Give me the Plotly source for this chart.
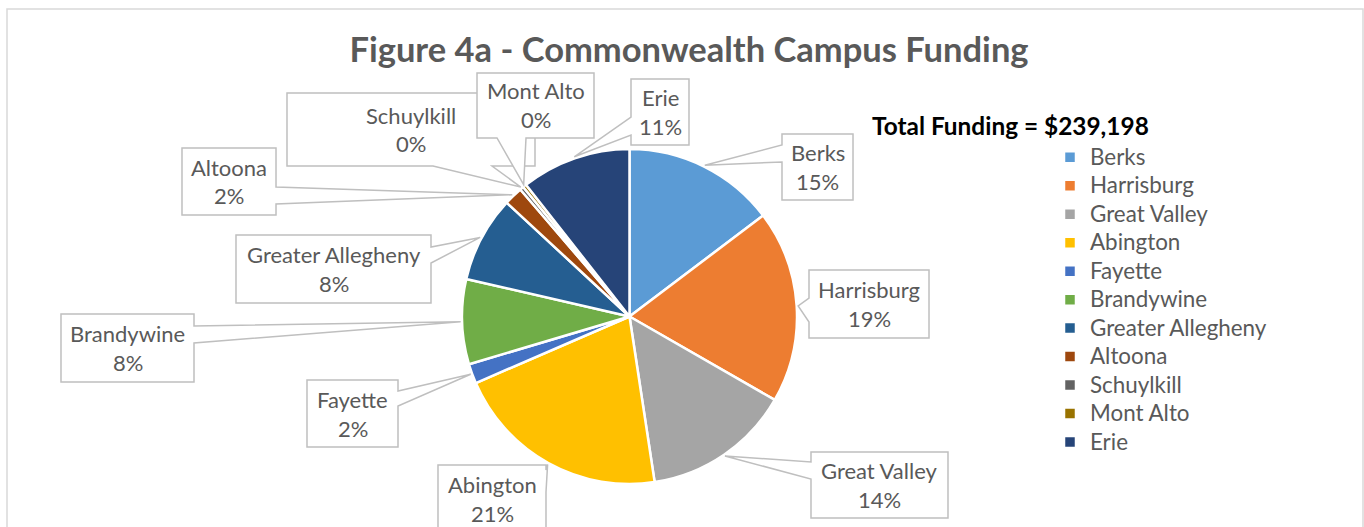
import math
import plotly.graph_objects as go

# ---------------- data ----------------
campuses = ["Berks", "Harrisburg", "Great Valley", "Abington", "Fayette", "Brandywine",
            "Greater Allegheny", "Altoona", "Schuylkill", "Mont Alto", "Erie"]
funding = [35162, 44491, 34205, 49992, 4545, 19614, 19853, 4306, 862, 812, 25356]
colors = ["#5B9BD5", "#ED7D31", "#A5A5A5", "#FFC000", "#4472C4", "#70AD47",
          "#255E91", "#9E480E", "#636363", "#997300", "#264478"]
title_text = "Figure 4a - Commonwealth Campus Funding"

# ---------------- layout constants (pixels) ----------------
W, H = 1364, 527
CX, CY, R = 629.5, 316.5, 167.5          # pie centre / radius in pixels
FONT = "Lato"
GRAY = "#595959"
LABEL_SIZE = 22
LEGEND_SIZE = 22.4

# callout boxes: (x0, y0, x1, y1), side of pointer, pointer base (a, b)
callouts = {
    "Berks":             ((782, 134, 853, 200), "left",   (145, 162)),
    "Harrisburg":        ((809, 270, 929, 338), "left",   (298, 322)),
    "Great Valley":      ((811, 452, 948, 518), "left",   (462, 479)),
    "Abington":          ((438, 465, 546, 540), "right",  (470, 492)),
    "Fayette":           ((307, 380, 398, 447), "right",  (391, 406)),
    "Brandywine":        ((61, 314, 194, 382),  "right",  (326, 343)),
    "Greater Allegheny": ((236, 235, 431, 303), "right",  (247, 263)),
    "Altoona":           ((182, 148, 276, 215), "right",  (187, 204)),
    "Schuylkill":        ((287, 93, 535, 166),  "bottom", (433, 492)),
    "Mont Alto":         ((477, 73, 594, 138),  "bottom", (497, 526)),
    "Erie":              ((631, 79, 689, 145),  "left",   (117, 135)),
}


def px(x):
    return x / W


def py(y):
    return 1 - y / H


def P(x, y):
    return f"{px(x):.5f},{py(y):.5f}"


total = sum(funding)
pcts = [v / total for v in funding]

legend_names = [f'<span style="font-size:{LEGEND_SIZE}px">{c}</span>' for c in campuses]

fig = go.Figure()
fig.add_trace(go.Pie(
    labels=legend_names, values=funding, sort=False, direction="clockwise", rotation=0,
    marker=dict(colors=colors, line=dict(color="white", width=2.5)),
    textinfo="none", hoverinfo="label+value+percent",
    domain=dict(x=[px(CX - R), px(CX + R)], y=[py(CY + R), py(CY - R)]),
    showlegend=True,
))

shapes = []
annotations = []

# chart area border
shapes.append(dict(type="rect", xref="paper", yref="paper",
                   x0=px(7), x1=px(1363), y0=py(545), y1=py(9),
                   line=dict(color="#D9D9D9", width=1.5), fillcolor="rgba(0,0,0,0)",
                   layer="below"))

cum = 0.0
for name, p in zip(campuses, pcts):
    mid = (cum + p / 2) * 2 * math.pi
    cum += p
    tx = CX + (R + 1.5) * math.sin(mid)
    ty = CY - (R + 1.5) * math.cos(mid)
    (x0, y0, x1, y1), side, (a, b) = callouts[name]
    if side == "left":
        pts = [(x0, y0), (x1, y0), (x1, y1), (x0, y1), (x0, b), (tx, ty), (x0, a)]
    elif side == "right":
        pts = [(x0, y0), (x1, y0), (x1, a), (tx, ty), (x1, b), (x1, y1), (x0, y1)]
    elif side == "bottom":
        pts = [(x0, y0), (x1, y0), (x1, y1), (b, y1), (tx, ty), (a, y1), (x0, y1)]
    else:
        pts = [(x0, y0), (a, y0), (tx, ty), (b, y0), (x1, y0), (x1, y1), (x0, y1)]
    path = "M" + " L".join(P(*q) for q in pts) + " Z"
    shapes.append(dict(type="path", xref="paper", yref="paper", path=path,
                       fillcolor="white", line=dict(color="#BFBFBF", width=1.5),
                       layer="above"))
    xc = (x0 + x1) / 2
    yc = (y0 + min(y1, 532)) / 2
    annotations.append(dict(x=px(xc), y=py(yc - 14.5), xref="paper", yref="paper",
                            text=name, showarrow=False, xanchor="center", yanchor="middle",
                            font=dict(family=FONT, size=LABEL_SIZE, color=GRAY)))
    annotations.append(dict(x=px(xc), y=py(yc + 14.5), xref="paper", yref="paper",
                            text=f"{round(p * 100)}%", showarrow=False,
                            xanchor="center", yanchor="middle",
                            font=dict(family=FONT, size=LABEL_SIZE, color=GRAY)))

annotations.append(dict(x=px(1010.5), y=py(125), xref="paper", yref="paper",
                        text=f"<b>Total Funding = ${total:,}</b>", showarrow=False,
                        xanchor="center", yanchor="middle",
                        font=dict(family=FONT, size=24.4, color="black")))

fig.update_layout(
    width=W, height=H,
    margin=dict(l=0, r=0, t=0, b=0),
    paper_bgcolor="white", plot_bgcolor="white",
    title=dict(text=f"<b>{title_text}</b>", x=px(689), xanchor="center",
               y=py(50), yanchor="middle",
               font=dict(family=FONT, size=34.5, color=GRAY)),
    legend=dict(x=px(1050), xanchor="left", y=py(138), yanchor="top",
                font=dict(family=FONT, size=19.6, color=GRAY),
                bgcolor="rgba(0,0,0,0)", traceorder="normal"),
    shapes=shapes, annotations=annotations,
)

fig.write_html("out.html", config={"displayModeBar": False},
               post_script="document.body.style.margin='0';")
